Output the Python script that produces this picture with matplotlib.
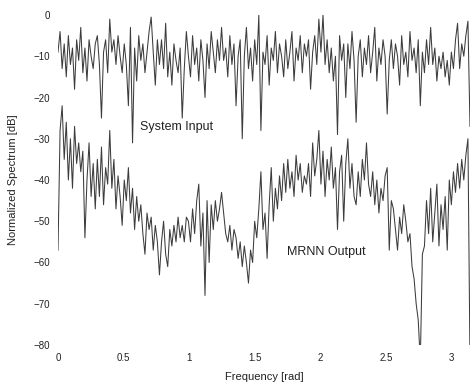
import numpy as np
import matplotlib
matplotlib.use("Agg")
import matplotlib.pyplot as plt

plt.rcParams['font.family'] = ['Liberation Sans', 'DejaVu Sans']

# Normalized spectrum values [dB] (uniform frequency grid 0..pi)
system_input = [
    -9, -4, -13, -7, -15, -5, -12, -8, -18, -6,
    -11, -3, -14, -8, -16, -6, -10, -13, -7, -5,
    -12, -25, -9, -6, -14, -1, -9, -6, -12, -5,
    -10, -14, -7, -12, -22, -3, -31, -8, -16, -5,
    -11, -7, -14, -9, -4, -0.5, -9, -17, -6, -12,
    -6, -13, -2, -15, -9, -17, -7, -11, -14, -8,
    -25, -13, -4, -10, -15, -5, -12, -8, -16, -6,
    -11, -20, -7, -13, -4, -9, -14, -6, -11, -3,
    -11, -8, -15, -5, -12, -7, -22, -10, -6, -30,
    -10, -3, -13, -8, -16, -6, -12, 0, -28, -9,
    -12, -5, -17, -8, -11, -4, -14, -7, -10, -15,
    -6, -13, -9, -4, -16, -8, -11, -5, -14, -7,
    -10, -6, -18, -9, -5, -12, -1, -9, 0, -12,
    -6, -14, -8, -16, -10, -29, -5, -11, -7, -20,
    -7, -13, -4, -11, -26, -10, -6, -15, -8, -12,
    -5, -14, -9, -3, -16, -8, -12, -6, -10, -24,
    -11, -6, -13, -7, -10, -17, -5, -12, -9, -15,
    -4, -11, -8, -14, -6, -22, -9, -14, -6, -12,
    -3, -12, -8, -16, -10, -13, -9, -15, -11, -17,
    -9, -13, -6, -2, -13, -7, -10, -5, -1.5, -27,
]

mrnn_output = [
    -57, -28, -22, -35, -26, -40, -30, -42, -27, -36,
    -31, -38, -33, -54, -40, -31, -44, -36, -47, -35,
    -44, -32, -46, -37, -41, -28, -42, -35, -47, -39,
    -44, -51, -40, -45, -37, -48, -42, -52, -44, -50,
    -46, -53, -58, -48, -52, -49, -57, -51, -55, -63,
    -55, -50, -58, -61, -52, -56, -51, -55, -49, -54,
    -51, -55, -49, -50, -55, -47, -53, -45, -41, -56,
    -48, -68, -45, -60, -46, -52, -45, -50, -47, -43,
    -48, -53, -55, -51, -57, -52, -54, -59, -55, -61,
    -56, -60, -65, -57, -60, -50, -54, -47, -38, -52,
    -48, -59, -46, -37, -50, -42, -47, -39, -45, -36,
    -43, -35, -42, -38, -44, -34, -40, -36, -43, -39,
    -41, -36, -44, -31, -39, -35, -28, -41, -33, -44,
    -35, -40, -32, -42, -37, -52, -38, -34, -50, -36,
    -30, -42, -36, -44, -46, -38, -44, -35, -40, -31,
    -41, -44, -38, -46, -40, -48, -42, -45, -39, -37,
    -57, -45, -47, -52, -57, -49, -53, -46, -50, -55,
    -53, -61, -64, -70, -74, -84, -58, -56, -45, -53,
    -42, -55, -48, -41, -56, -46, -52, -44, -57, -40,
    -46, -38, -43, -36, -42, -35, -40, -34, -30, -84,
]

x_ticks = [0, 0.5, 1, 1.5, 2, 2.5, 3]
x_tick_labels = ['0', '0.5', '1', '1.5', '2', '2.5', '3']
y_ticks = [0, -10, -20, -30, -40, -50, -60, -70, -80]

freq_in = np.linspace(0, np.pi, len(system_input))
freq_out = np.linspace(0, np.pi, len(mrnn_output))

fig = plt.figure(figsize=(4.74, 3.83), dpi=100)
ax = fig.add_axes([58 / 474, 38 / 383, 412 / 474, 330 / 383])

ax.plot(freq_in, system_input, color='#3c3c3c', lw=0.75)
ax.plot(freq_out, mrnn_output, color='#3c3c3c', lw=0.75)

ax.set_xlim(0, np.pi)
ax.set_ylim(-80, 0)
ax.set_xticks(x_ticks)
ax.set_xticklabels(x_tick_labels)
ax.set_yticks(y_ticks)
ax.tick_params(length=0, labelsize=7, pad=6, colors='#222222')
for s in ax.spines.values():
    s.set_visible(False)

ax.set_xlabel('Frequency [rad]', fontsize=8, labelpad=6, color='#222222')
ax.set_ylabel('Normalized Spectrum [dB]', fontsize=8, labelpad=11, color='#222222')

ax.text(0.625, -27.2, 'System Input', fontsize=9, ha='left', va='center', color='#222222')
ax.text(1.747, -57.5, 'MRNN Output', fontsize=9, ha='left', va='center', color='#222222')

fig.savefig('out.png', dpi=100)
